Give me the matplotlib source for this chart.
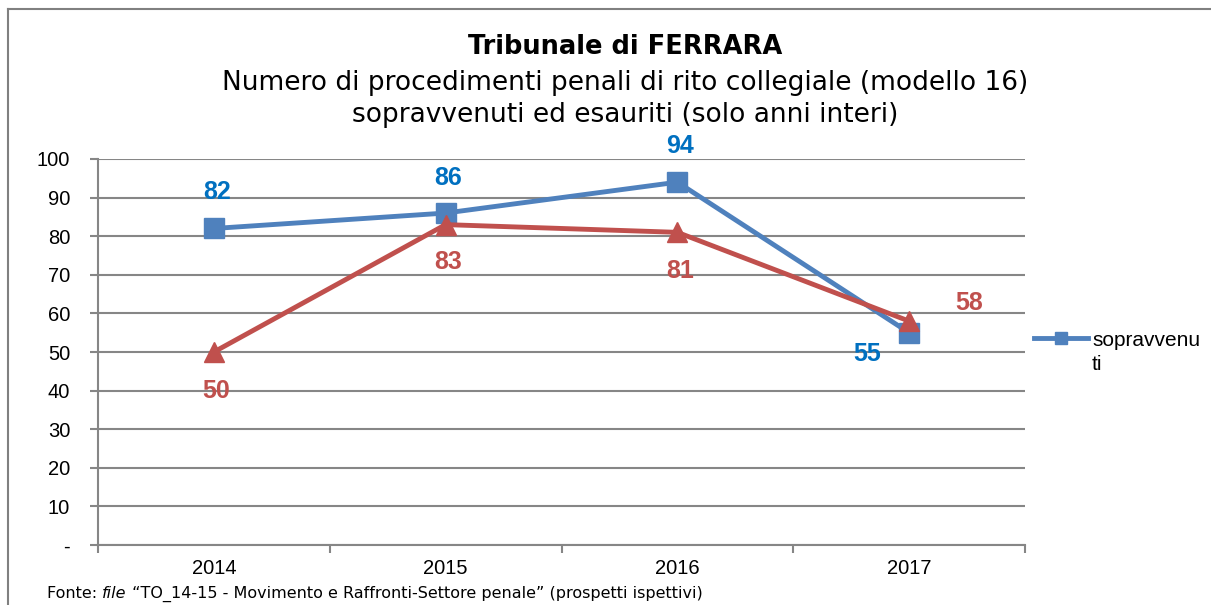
import matplotlib
matplotlib.use("Agg")
import matplotlib.pyplot as plt
from matplotlib.lines import Line2D

years = ["2014", "2015", "2016", "2017"]
sopravvenuti = [82, 86, 94, 55]
esauriti = [50, 83, 81, 58]
yticks = [0, 10, 20, 30, 40, 50, 60, 70, 80, 90, 100]
ytick_labels = ["-", "10", "20", "30", "40", "50", "60", "70", "80", "90", "100"]

BLUE = "#4F81BD"
BLUE_LBL = "#0070C0"
RED = "#C0504D"
GRID = "#868686"
ARIAL = "Liberation Sans"

fig = plt.figure(figsize=(12.11, 6.05), dpi=100)
W, H = 1211, 605

# outer border (top and left)
fig.add_artist(Line2D([8 / W, 8 / W], [0, 1 - 9 / H], transform=fig.transFigure, color="#808080", lw=1.5))
fig.add_artist(Line2D([8 / W, 1], [1 - 9 / H, 1 - 9 / H], transform=fig.transFigure, color="#808080", lw=1.5))

ax = fig.add_axes([98 / W, 1 - 545 / H, (1025 - 98) / W, (545 - 159) / H])
x = list(range(len(years)))

ax.set_xlim(-0.5, len(years) - 0.5)
ax.set_ylim(0, 100)
ax.set_yticks(yticks)
ax.set_yticklabels(ytick_labels, fontsize=14.5, family=ARIAL)
ax.yaxis.grid(True, color=GRID, lw=1.5)
ax.set_axisbelow(True)
ax.set_xticks([i - 0.5 for i in range(len(years) + 1)])
ax.set_xticklabels([])
ax.set_xticks(x, minor=True)
ax.set_xticklabels(years, minor=True, fontsize=14.5, family=ARIAL)
ax.tick_params(axis="x", which="minor", length=0, pad=10)
ax.tick_params(axis="x", which="major", length=6, color=GRID, width=1.5, direction="out")
ax.tick_params(axis="y", length=6, color=GRID, width=1.5, pad=14)
for s in ["top", "right"]:
    ax.spines[s].set_visible(False)
for s in ["left", "bottom"]:
    ax.spines[s].set_color(GRID)
    ax.spines[s].set_linewidth(1.5)

ax.plot(x, sopravvenuti, color=BLUE, lw=3.5, marker="s", ms=14, zorder=3, label="sopravvenuti")
ax.plot(x, esauriti, color=RED, lw=3.5, marker="^", ms=14, zorder=4, label="esauriti")

blue_offsets = [(2, 26), (2, 25), (2, 26), (-30, -15)]
red_offsets = [(2, -28), (2, -27), (2, -28), (43, 13)]
for xi, v, off in zip(x, sopravvenuti, blue_offsets):
    ax.annotate(str(v), (xi, v), xytext=off, textcoords="offset points", ha="center", va="center",
                fontsize=18, fontweight="bold", color=BLUE_LBL, family=ARIAL)
for xi, v, off in zip(x, esauriti, red_offsets):
    ax.annotate(str(v), (xi, v), xytext=off, textcoords="offset points", ha="center", va="center",
                fontsize=18, fontweight="bold", color=RED, family=ARIAL)

# legend (only first series visible)
fig.add_artist(Line2D([1034 / W, 1061 / W, 1088 / W], [1 - 338 / H] * 3, transform=fig.transFigure,
                      color=BLUE, lw=3.5, marker="s", ms=9, markevery=[1]))
fig.text(1092 / W, 1 - 340 / H, "sopravvenu", fontsize=15, family=ARIAL, va="center", ha="left")
fig.text(1092 / W, 1 - 364 / H, "ti", fontsize=15, family=ARIAL, va="center", ha="left")

# titles
cx = 625 / W
fig.text(cx, 1 - 47 / H, "Tribunale di FERRARA", ha="center", va="center", fontsize=18.5,
         fontweight="bold", family="DejaVu Sans")
fig.text(cx, 1 - 83 / H, "Numero di procedimenti penali di rito collegiale (modello 16)",
         ha="center", va="center", fontsize=19, family="DejaVu Sans")
fig.text(cx, 1 - 115 / H, "sopravvenuti ed esauriti (solo anni interi)",
         ha="center", va="center", fontsize=19, family="DejaVu Sans")

# source note
fig.canvas.draw()
r = fig.canvas.get_renderer()
y_src = 1 - 594 / H
src1 = fig.text(47 / W, y_src, "Fonte: ", ha="left", va="center", fontsize=11.5, family="DejaVu Sans")
bb = src1.get_window_extent(r)
src2 = fig.text(bb.x1 / W, y_src, "file", ha="left", va="center", fontsize=11.5,
                style="italic", family="DejaVu Sans")
bb2 = src2.get_window_extent(r)
fig.text(bb2.x1 / W, y_src, " \u201cTO_14-15 - Movimento e Raffronti-Settore penale\u201d (prospetti ispettivi)",
         ha="left", va="center", fontsize=11.5, family="DejaVu Sans")

fig.savefig("out.png", dpi=100)
